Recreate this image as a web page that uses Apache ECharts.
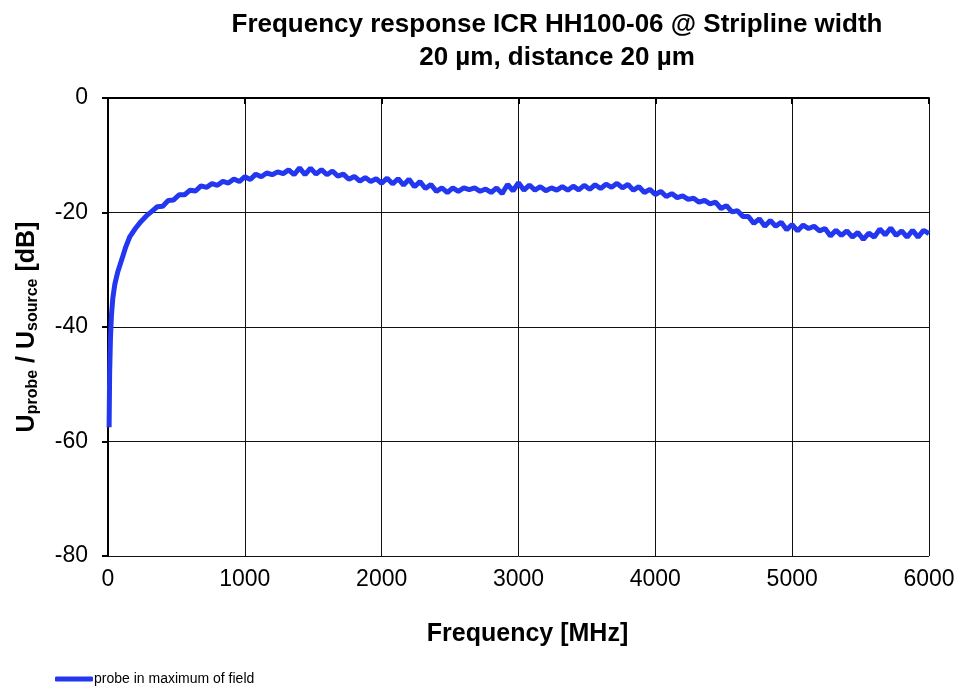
<!DOCTYPE html>
<html>
<head>
<meta charset="utf-8">
<script src="https://cdn.jsdelivr.net/npm/echarts@6/dist/echarts.min.js"></script>
<style>
html,body{margin:0;padding:0;background:#fff;}
#chart{width:962px;height:686px;}
</style>
</head>
<body>
<div id="chart"></div>
<script>
// Frequency in MHz
const freqLow = [8, 12, 18, 25, 35, 50, 70, 90, 110, 130, 160, 200, 240, 280, 320];
const dbLow = [-57.5, -48, -42, -38, -35, -32.5, -30.5, -29, -27.5, -26, -24.2, -22.8, -21.6, -20.6, -19.8];

// 40 MHz steps from 360 to 6000
const freqStart = 360;
const freqStep = 40;
const dbMain = [
  -19.0, -18.9, -17.9, -17.8, -16.9, -16.9, -16.1, -16.25, -15.35, -15.6,
  -14.95, -15.25, -14.55, -14.85, -14.15, -14.6, -13.75, -14.25, -13.3, -13.75,
  -13.1, -13.4, -12.9, -13.2, -12.55, -13.4, -12.2, -13.4, -12.25, -13.3,
  -12.5, -13.4, -12.75, -13.65, -13.3, -14.2, -13.7, -14.5, -13.9, -14.6,
  -14.1, -14.9, -14.0, -15.0, -14.1, -15.2, -14.2, -15.5, -14.6, -15.8,
  -15.1, -16.3, -15.7, -16.5, -15.7, -16.3, -15.7, -16.0, -15.7, -16.3,
  -15.9, -16.5, -15.7, -16.7, -15.1, -16.2, -14.8, -16.1, -15.2, -16.1,
  -15.5, -16.2, -15.7, -16.1, -15.5, -16.1, -15.4, -16.05, -15.25, -15.95,
  -15.15, -15.8, -15.05, -15.6, -14.9, -15.7, -15.1, -16.1, -15.5, -16.5,
  -15.95, -16.85, -16.3, -17.2, -16.7, -17.4, -17.1, -17.7, -17.5, -18.2,
  -17.9, -18.5, -18.2, -19.3, -18.8, -19.9, -19.7, -20.7, -20.7, -21.9,
  -21.1, -22.4, -21.4, -22.4, -21.7, -23.0, -22.1, -23.2, -22.2, -22.8,
  -22.4, -23.2, -22.8, -24.1, -23.1, -24.0, -23.2, -24.3, -23.5, -24.7,
  -23.6, -24.3, -22.9, -23.9, -22.7, -24.0, -23.2, -24.3, -23.1, -24.3,
  -23.1, -23.7
];

const xTicks = { min: 0, max: 6000, interval: 1000 };
const yTicks = { min: -80, max: 0, interval: 20 };
const seriesName = 'probe in maximum of field';

const points = [];
freqLow.forEach((f, i) => points.push([f, dbLow[i]]));
dbMain.forEach((v, i) => points.push([freqStart + i * freqStep, v]));

const chart = echarts.init(document.getElementById('chart'));
const FONT = '"Liberation Sans", Arial, sans-serif';
chart.setOption({
  backgroundColor: '#fff',
  animation: false,
  title: {
    text: 'Frequency response ICR HH100-06 @ Stripline width\n20 µm, distance 20 µm',
    left: 552,
    top: 3,
    textAlign: 'center',
    textStyle: { fontFamily: FONT, fontWeight: 'bold', fontSize: 26, lineHeight: 33, color: '#000' }
  },
  legend: {
    left: 50,
    top: 667,
    itemWidth: 38,
    itemHeight: 5,
    itemGap: 0,
    icon: 'roundRect',
    textStyle: { fontFamily: FONT, fontSize: 14, color: '#000', padding: [0, 0, 0, -4] },
    data: [seriesName]
  },
  grid: { left: 108, right: 33, top: 98, bottom: 130, containLabel: false },
  xAxis: {
    type: 'value',
    min: xTicks.min, max: xTicks.max, interval: xTicks.interval,
    name: 'Frequency [MHz]',
    nameLocation: 'middle',
    nameGap: 66,
    nameTextStyle: { fontFamily: FONT, fontWeight: 'bold', fontSize: 25, color: '#000', padding: [0, 0, 0, 18] },
    axisLine: { lineStyle: { color: '#000', width: 2 } },
    axisTick: { show: true, length: 6, lineStyle: { color: '#000', width: 2 } },
    axisLabel: { fontFamily: FONT, fontSize: 23, color: '#000', margin: 12, formatter: v => String(v) },
    splitLine: { show: true, lineStyle: { color: '#111', width: 1 } }
  },
  yAxis: {
    type: 'value',
    min: yTicks.min, max: yTicks.max, interval: yTicks.interval,
    name: '{b|U}{s|probe}{b| / U}{s|source}{b| [dB]}',
    nameLocation: 'middle',
    nameGap: 67,
    nameRotate: 90,
    nameTextStyle: {
      rich: {
        b: { fontFamily: FONT, fontWeight: 'bold', fontSize: 25, color: '#000' },
        s: { fontFamily: FONT, fontWeight: 'bold', fontSize: 16, color: '#000', verticalAlign: 'bottom', padding: [12, 0, 0, 0] }
      },
      padding: [0, 0, 0, 0]
    },
    axisLine: { show: true, lineStyle: { color: '#000', width: 2 } },
    axisTick: { show: true, length: 6, lineStyle: { color: '#000', width: 2 } },
    axisLabel: { fontFamily: FONT, fontSize: 23, color: '#000', margin: 20, formatter: v => String(v) },
    splitLine: { show: true, lineStyle: { color: '#111', width: 1 } }
  },
  series: [{
    name: seriesName,
    type: 'line',
    data: points,
    showSymbol: false,
    smooth: false,
    lineStyle: { color: '#2337f0', width: 5 },
    itemStyle: { color: '#2337f0' }
  }]
});
</script>
</body>
</html>
